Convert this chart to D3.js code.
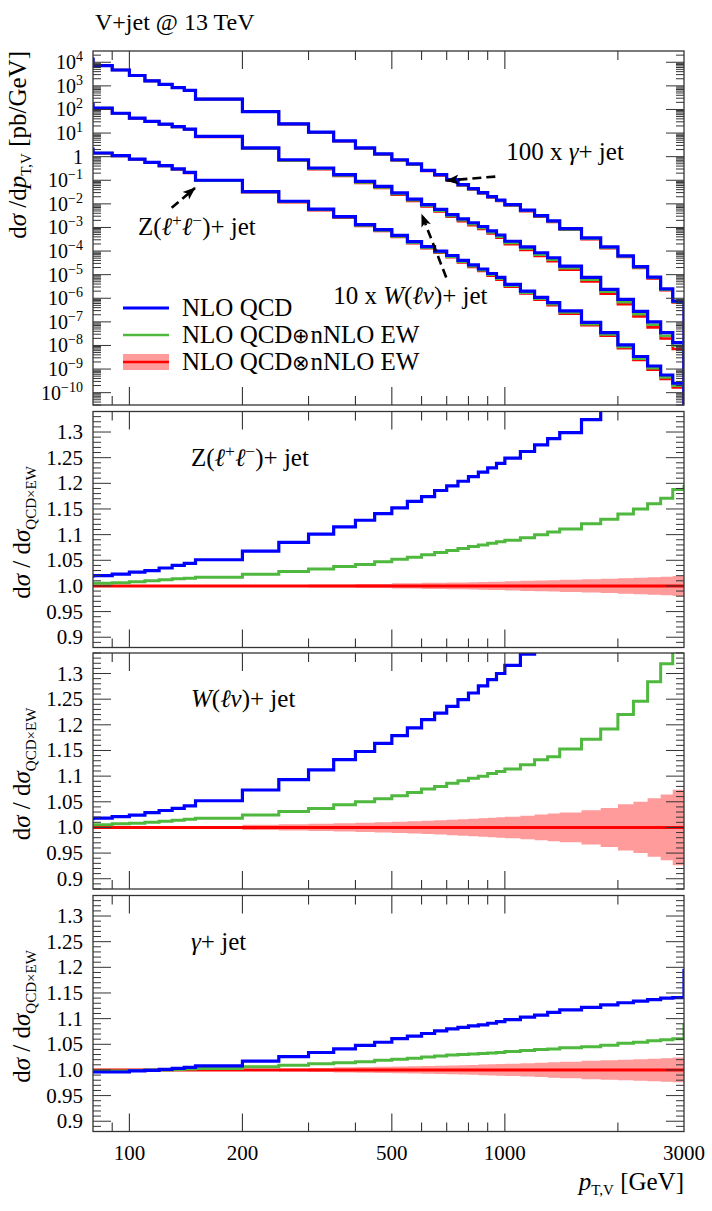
<!DOCTYPE html>
<html>
<head>
<meta charset="utf-8">
<script src="https://cdn.jsdelivr.net/npm/d3@7"></script>
<style>
  body { margin: 0; background: #fff; }
  svg text { font-family: 'Liberation Serif', 'DejaVu Serif', serif; fill: #000; }
</style>
</head>
<body>
<div id="chart"></div>
<script>
// pT bin edges [GeV]; first bin (70-80) and last bin (3000-3300) lie outside the frame
var binEdges = [70, 80, 90, 100, 110, 120, 130, 140, 150, 200, 250, 300, 350, 400, 450, 500, 550, 600,
  650, 700, 750, 800, 850, 900, 950, 1000, 1100, 1200, 1300, 1400, 1600, 1800, 2000, 2200, 2400,
  2600, 2800, 3000, 3300]

// NLO QCD dsigma/dpT [pb/GeV], one value per bin (before the 10x / 100x scaling)
var zQcd = [2.1, 1.43, 1.1, 0.79, 0.575, 0.417, 0.302, 0.214, 0.1, 0.0331, 0.0129, 6.0e-3, 2.9e-3,
  1.32e-3, 8.1e-4, 4.6e-4, 2.5e-4, 1.55e-4, 1.0e-4, 6.5e-5, 4.0e-5, 2.6e-5, 1.74e-5, 1.12e-5, 7.6e-6,
  3.9e-6, 2.0e-6, 1.1e-6, 6.5e-7, 2.9e-7, 9.5e-8, 3.5e-8, 1.05e-8, 3.4e-9, 1.35e-9, 5.6e-10, 2.5e-10, 1e-14]
var wQcd = [16, 11.5, 6.9, 4.3, 3.1, 2.4, 1.86, 1.48, 0.72, 0.235, 0.074, 0.033, 0.0174, 8.9e-3,
  5.5e-3, 2.9e-3, 1.58e-3, 9.3e-4, 5.8e-4, 3.5e-4, 2.3e-4, 1.58e-4, 1.1e-4, 7.2e-5, 4.8e-5,
  2.6e-5, 1.5e-5, 8.5e-6, 5.2e-6, 2.3e-6, 7.6e-7, 2.4e-7, 8.9e-8, 2.8e-8, 1.0e-8, 3.5e-9, 1.32e-9, 1e-14]
var gQcd = [135, 72, 47, 27.5, 16.2, 11.5, 8.5, 6.5, 2.75, 0.81, 0.245, 0.11, 0.047, 0.0235, 0.0132,
  7.4e-3, 4.9e-3, 2.63e-3, 1.74e-3, 1.07e-3, 6.5e-4, 4.4e-4, 3.0e-4, 2.04e-4, 1.45e-4,
  9.3e-5, 5.4e-5, 3.2e-5, 1.9e-5, 8.9e-6, 3.6e-6, 1.5e-6, 6.3e-7, 2.2e-7, 7.9e-8, 2.5e-8, 7.5e-9, 1e-14]

// Ratios to NLO QCD x nNLO EW
var zRatioQcd = [1.019, 1.020, 1.023, 1.027, 1.030, 1.035, 1.040, 1.044, 1.051, 1.068, 1.085, 1.101,
  1.115, 1.128, 1.141, 1.152, 1.165, 1.174, 1.186, 1.195, 1.204, 1.213, 1.222, 1.230, 1.239,
  1.249, 1.262, 1.275, 1.287, 1.299, 1.324, 1.35, 1.38, 1.41, 1.44, 1.47, 1.50, 1.50]
var zRatioAdd = [1.005, 1.005, 1.006, 1.008, 1.010, 1.012, 1.014, 1.015, 1.017, 1.023, 1.028, 1.033,
  1.038, 1.042, 1.047, 1.052, 1.056, 1.061, 1.065, 1.069, 1.073, 1.077, 1.080, 1.083, 1.086,
  1.089, 1.094, 1.100, 1.105, 1.111, 1.121, 1.130, 1.140, 1.150, 1.160, 1.171, 1.188, 1.194]
var zBand = [0.001, 0.001, 0.001, 0.001, 0.001, 0.001, 0.001, 0.001, 0.001, 0.002, 0.002, 0.003,
  0.003, 0.004, 0.004, 0.005, 0.005, 0.006, 0.006, 0.0065, 0.0065, 0.007, 0.0075, 0.008, 0.008,
  0.009, 0.010, 0.0105, 0.011, 0.012, 0.013, 0.014, 0.015, 0.016, 0.017, 0.018, 0.0195, 0]

var wRatioQcd = [1.017, 1.018, 1.021, 1.024, 1.029, 1.033, 1.037, 1.042, 1.052, 1.073, 1.093, 1.112,
  1.132, 1.148, 1.164, 1.179, 1.194, 1.210, 1.223, 1.236, 1.249, 1.262, 1.276, 1.288, 1.300,
  1.316, 1.338, 1.36, 1.385, 1.42, 1.47, 1.52, 1.58, 1.64, 1.71, 1.78, 1.86, 1.86]
var wRatioAdd = [1.005, 1.005, 1.007, 1.008, 1.010, 1.012, 1.014, 1.016, 1.018, 1.024, 1.031, 1.037,
  1.044, 1.050, 1.056, 1.062, 1.068, 1.075, 1.080, 1.086, 1.091, 1.096, 1.100, 1.105, 1.109,
  1.114, 1.122, 1.132, 1.138, 1.153, 1.172, 1.192, 1.220, 1.246, 1.284, 1.319, 1.36, 1.36]
var wBand = [0.001, 0.001, 0.001, 0.001, 0.001, 0.001, 0.001, 0.001, 0.002, 0.005, 0.006, 0.007,
  0.008, 0.009, 0.010, 0.011, 0.012, 0.013, 0.014, 0.015, 0.016, 0.017, 0.018, 0.019, 0.020,
  0.021, 0.023, 0.025, 0.027, 0.029, 0.0335, 0.038, 0.045, 0.050, 0.057, 0.064, 0.0736, 0]

var gRatioQcd = [0.996, 0.996, 0.996, 0.998, 0.999, 1.001, 1.003, 1.005, 1.008, 1.017, 1.026, 1.034,
  1.041, 1.048, 1.054, 1.061, 1.066, 1.071, 1.076, 1.080, 1.083, 1.086, 1.088, 1.091, 1.094,
  1.098, 1.103, 1.107, 1.112, 1.117, 1.122, 1.127, 1.131, 1.134, 1.137, 1.140, 1.141, 1.194]
var gRatioAdd = [0.998, 0.998, 0.998, 0.999, 1.000, 1.000, 1.001, 1.002, 1.003, 1.006, 1.009, 1.012,
  1.014, 1.016, 1.019, 1.021, 1.023, 1.025, 1.027, 1.029, 1.030, 1.031, 1.032, 1.033, 1.034,
  1.036, 1.038, 1.040, 1.041, 1.043, 1.045, 1.048, 1.052, 1.054, 1.057, 1.059, 1.061, 1.087]
var gBand = [0.001, 0.001, 0.001, 0.001, 0.001, 0.001, 0.001, 0.001, 0.001, 0.002, 0.003, 0.004,
  0.005, 0.0055, 0.006, 0.0065, 0.007, 0.0075, 0.008, 0.0085, 0.009, 0.0095, 0.0105, 0.011, 0.0115,
  0.012, 0.013, 0.014, 0.015, 0.016, 0.018, 0.019, 0.020, 0.021, 0.022, 0.023, 0.024, 0]

// Axis ticks and labels
var xMajorTicks = [100, 200, 500, 1000]
var xMinorTicks = [90, 300, 400, 600, 700, 800, 900, 2000]
var xTickLabels = [100, 200, 500, 1000, 3000]
var ratioTickValues = [0.9, 0.95, 1.0, 1.05, 1.1, 1.15, 1.2, 1.25, 1.3]
var ratioTickLabels = ['0.9', '0.95', '1.0', '1.05', '1.1', '1.15', '1.2', '1.25', '1.3']
var mainExponents = [-10, -9, -8, -7, -6, -5, -4, -3, -2, -1, 0, 1, 2, 3, 4]

// Colours
var colQcd = '#0000ff'
var colAdd = '#4fb83e'
var colMult = '#ff0000'
var colBand = '#ff9b9b'

// Layout
var plotLeft = 93
var plotRight = 684
var mainTop = 51
var mainBottom = 405
var ratioTops = [411.5, 653, 895.5]
var ratioHeight = 236

var svg = d3.select('#chart').append('svg')
  .attr('width', 712)
  .attr('height', 1211)

var xScale = d3.scaleLog().domain([80, 3000]).range([plotLeft, plotRight])
var yMain = d3.scaleLog().domain([3e-11, 3e4]).range([mainBottom, mainTop])

// Arrow head for the annotation arrows
svg.append('defs').append('marker')
  .attr('id', 'arrowHead')
  .attr('markerUnits', 'userSpaceOnUse')
  .attr('markerWidth', 14)
  .attr('markerHeight', 12)
  .attr('refX', 12)
  .attr('refY', 6)
  .attr('orient', 'auto')
  .append('path')
  .attr('d', 'M0,1 L13,6 L0,11 L3,6 Z')
  .attr('fill', '#000')

/**
 * Turns per-bin values into step points (one per bin edge)
 */
function toSteps (values) {
  return binEdges.map(function (e, i) {
    return { x: e, y: values[Math.min(i, values.length - 1)] }
  })
}

function toBand (centre, half) {
  return binEdges.map(function (e, i) {
    var k = Math.min(i, centre.length - 1)
    return { x: e, lo: centre[k] * (1 - half[k]), hi: centre[k] * (1 + half[k]) }
  })
}

function addClip (id, top, bottom) {
  svg.select('defs').append('clipPath')
    .attr('id', id)
    .append('rect')
    .attr('x', plotLeft)
    .attr('y', top)
    .attr('width', plotRight - plotLeft)
    .attr('height', bottom - top)
}

function drawStep (g, yScale, values, colour, width) {
  var line = d3.line()
    .x(function (d) { return xScale(d.x) })
    .y(function (d) { return yScale(d.y) })
    .curve(d3.curveStepAfter)
  g.append('path')
    .attr('d', line(toSteps(values)))
    .attr('fill', 'none')
    .attr('stroke', colour)
    .attr('stroke-width', width)
}

function drawBand (g, yScale, centre, half) {
  var area = d3.area()
    .x(function (d) { return xScale(d.x) })
    .y0(function (d) { return yScale(d.lo) })
    .y1(function (d) { return yScale(d.hi) })
    .curve(d3.curveStepAfter)
  g.append('path')
    .attr('d', area(toBand(centre, half)))
    .attr('fill', colBand)
    .attr('stroke', 'none')
}

/**
 * Frame plus inward x ticks on top and bottom edges
 */
function drawFrameAndXTicks (top, bottom) {
  var g = svg.append('g')
  xMajorTicks.forEach(function (v) {
    g.append('line').attr('x1', xScale(v)).attr('x2', xScale(v)).attr('y1', top).attr('y2', top + 18)
    g.append('line').attr('x1', xScale(v)).attr('x2', xScale(v)).attr('y1', bottom).attr('y2', bottom - 18)
  })
  xMinorTicks.forEach(function (v) {
    g.append('line').attr('x1', xScale(v)).attr('x2', xScale(v)).attr('y1', top).attr('y2', top + 9)
    g.append('line').attr('x1', xScale(v)).attr('x2', xScale(v)).attr('y1', bottom).attr('y2', bottom - 9)
  })
  g.selectAll('line').attr('stroke', '#333').attr('stroke-width', 1.1)
  g.append('rect')
    .attr('x', plotLeft)
    .attr('y', top)
    .attr('width', plotRight - plotLeft)
    .attr('height', bottom - top)
    .attr('fill', 'none')
    .attr('stroke', '#333')
    .attr('stroke-width', 1.3)
}

function drawYTick (g, y, len) {
  g.append('line').attr('x1', plotLeft).attr('x2', plotLeft + len).attr('y1', y).attr('y2', y)
  g.append('line').attr('x1', plotRight).attr('x2', plotRight - len).attr('y1', y).attr('y2', y)
}

// ---------------- Main panel ----------------
addClip('clipMain', mainTop, mainBottom)
var mainG = svg.append('g').attr('clip-path', 'url(#clipMain)')

var processes = [
  { qcd: zQcd, scale: 1, rQcd: zRatioQcd, rAdd: zRatioAdd, band: zBand },
  { qcd: wQcd, scale: 10, rQcd: wRatioQcd, rAdd: wRatioAdd, band: wBand },
  { qcd: gQcd, scale: 100, rQcd: gRatioQcd, rAdd: gRatioAdd, band: gBand }
]

processes.forEach(function (p) {
  var qcd = p.qcd.map(function (v) { return v * p.scale })
  var mult = qcd.map(function (v, i) { return v / p.rQcd[i] })
  var add = mult.map(function (v, i) { return v * p.rAdd[i] })
  drawBand(mainG, yMain, mult, p.band)
  drawStep(mainG, yMain, mult, colMult, 2.6)
  drawStep(mainG, yMain, add, colAdd, 2.6)
  drawStep(mainG, yMain, qcd, colQcd, 3.2)
})

// Log y ticks
var mainTicks = svg.append('g')
mainExponents.forEach(function (k) {
  drawYTick(mainTicks, yMain(Math.pow(10, k)), 18)
  for (var m = 2; m <= 9; m++) {
    var v = m * Math.pow(10, k)
    if (v < 3e4) drawYTick(mainTicks, yMain(v), 8)
  }
})
for (var m0 = 3; m0 <= 9; m0++) drawYTick(mainTicks, yMain(m0 * 1e-11), 8)
mainTicks.selectAll('line').attr('stroke', '#333').attr('stroke-width', 1)
drawFrameAndXTicks(mainTop, mainBottom)

// Log y tick labels
mainExponents.forEach(function (k) {
  var t = svg.append('text')
    .attr('x', 83)
    .attr('y', yMain(Math.pow(10, k)) + 7)
    .attr('text-anchor', 'end')
    .style('font-size', '20px')
  if (k === 0) {
    t.text('1')
  } else {
    t.append('tspan').text('10')
    t.append('tspan')
      .attr('dy', -8)
      .style('font-size', '14px')
      .text(k < 0 ? '\u2212' + (-k) : String(k))
  }
})

// Legend
var legendRows = [
  { y: 308, colour: colQcd, text: ['NLO QCD'] },
  { y: 335, colour: colAdd, text: ['NLO QCD', '\u2295', 'nNLO EW'] },
  { y: 362, colour: colMult, text: ['NLO QCD', '\u2297', 'nNLO EW'], band: true }
]
legendRows.forEach(function (r) {
  if (r.band) {
    svg.append('rect').attr('x', 123).attr('y', r.y - 8).attr('width', 46).attr('height', 16).attr('fill', colBand)
  }
  svg.append('line')
    .attr('x1', 123).attr('x2', 169)
    .attr('y1', r.y).attr('y2', r.y)
    .attr('stroke', r.colour)
    .attr('stroke-width', r.colour === colQcd ? 3.2 : 2.6)
  var t = svg.append('text').attr('x', 182).attr('y', r.y + 8).style('font-size', '25px')
  r.text.forEach(function (s) {
    var sp = t.append('tspan').text(s)
    if (s.length === 1) sp.style('font-family', 'DejaVu Sans').style('font-weight', 200).style('font-size', '21px')
  })
})

// Annotations in the main panel
function annotation (x0, y0, x1, y1) {
  svg.append('line')
    .attr('x1', xScale(x0)).attr('y1', yMain(y0))
    .attr('x2', xScale(x1)).attr('y2', yMain(y1))
    .attr('stroke', '#000')
    .attr('stroke-width', 2.6)
    .attr('stroke-dasharray', '9,5')
    .attr('marker-end', 'url(#arrowHead)')
}
annotation(129.6, 6.8e-3, 149.5, 4.7e-2)
annotation(698, 7.6e-6, 601, 3.5e-3)
annotation(943, 0.143, 700, 0.097)

/**
 * Writes a process label; parts may be italic, raised (small) or shifted back to the baseline
 */
function processLabel (x, y, parts, size) {
  var t = svg.append('text').attr('x', x).attr('y', y).style('font-size', size + 'px')
  parts.forEach(function (p) {
    var s = t.append('tspan').text(p.t)
    if (p.i) s.style('font-style', 'italic')
    if (p.dy) s.attr('dy', p.dy)
    if (p.small) s.style('font-size', (size * 0.7) + 'px')
    if (p.f) s.style('font-family', p.f)
  })
}

var zParts = [{ t: 'Z(' }, { t: '\u2113', f: 'DejaVu Serif', i: true }, { t: '+', dy: -9, small: true },
  { t: '\u2113', f: 'DejaVu Serif', i: true, dy: 9 }, { t: '\u2212', dy: -9, small: true }, { t: ')+ jet', dy: 9 }]
var wParts = [{ t: 'W', i: true }, { t: '(' }, { t: '\u2113', f: 'DejaVu Serif', i: true }, { t: '\u03bd', i: true }, { t: ')+ jet' }]
var gParts = [{ t: '\u03b3', i: true }, { t: '+ jet' }]

processLabel(xScale(105.4), yMain(5e-4), zParts, 25)
processLabel(xScale(349), yMain(5.5e-7), [{ t: '10 x ' }].concat(wParts), 25)
processLabel(xScale(1008), yMain(0.74), [{ t: '100 x ' }].concat(gParts), 25)

// ---------------- Ratio panels ----------------
var ratioPanels = [
  { rQcd: zRatioQcd, rAdd: zRatioAdd, band: zBand, label: zParts },
  { rQcd: wRatioQcd, rAdd: wRatioAdd, band: wBand, label: wParts },
  { rQcd: gRatioQcd, rAdd: gRatioAdd, band: gBand, label: gParts }
]

ratioPanels.forEach(function (p, idx) {
  var top = ratioTops[idx]
  var bottom = top + ratioHeight
  var yR = d3.scaleLinear().domain([0.88, 1.34]).range([bottom, top])
  addClip('clipR' + idx, top, bottom)
  var g = svg.append('g').attr('clip-path', 'url(#clipR' + idx + ')')
  var ones = p.band.map(function () { return 1 })
  drawBand(g, yR, ones, p.band)
  drawStep(g, yR, ones, colMult, 3)
  drawStep(g, yR, p.rAdd, colAdd, 3)
  drawStep(g, yR, p.rQcd, colQcd, 3.2)

  // y ticks
  var tg = svg.append('g')
  d3.range(88, 135).forEach(function (c) {
    drawYTick(tg, yR(c / 100), c % 5 === 0 ? 18 : 8)
  })
  tg.selectAll('line').attr('stroke', '#333').attr('stroke-width', 1)
  drawFrameAndXTicks(top, bottom)

  ratioTickValues.forEach(function (v, i) {
    svg.append('text')
      .attr('x', 83)
      .attr('y', yR(v) + 7)
      .attr('text-anchor', 'end')
      .style('font-size', '21px')
      .text(ratioTickLabels[i])
  })

  // y axis title
  var t = svg.append('text')
    .attr('transform', 'translate(30,' + (top + 121) + ') rotate(-90)')
    .attr('text-anchor', 'middle')
    .style('font-size', '25px')
  t.append('tspan').text('d')
  t.append('tspan').text('\u03c3').style('font-style', 'italic')
  t.append('tspan').text(' / d')
  t.append('tspan').text('\u03c3').style('font-style', 'italic')
  t.append('tspan').text('QCD\u00d7EW').attr('dy', 6).style('font-size', '15px')

  processLabel(191, top + 54, p.label, 25)
})

// Main y axis title
var yt = svg.append('text')
  .attr('transform', 'translate(26,' + mainTop + ') rotate(-90)')
  .attr('text-anchor', 'end')
  .style('font-size', '25px')
yt.append('tspan').text('d')
yt.append('tspan').text('\u03c3').style('font-style', 'italic')
yt.append('tspan').text(' /d')
yt.append('tspan').text('p').style('font-style', 'italic')
yt.append('tspan').text('T,V').attr('dy', 5).style('font-size', '15px')
yt.append('tspan').text(' [pb/GeV]').attr('dy', -5)

// x tick labels and title
xTickLabels.forEach(function (v) {
  svg.append('text')
    .attr('x', xScale(v))
    .attr('y', 1160)
    .attr('text-anchor', 'middle')
    .style('font-size', '21px')
    .text(v)
})

var xt = svg.append('text')
  .attr('x', plotRight)
  .attr('y', 1190)
  .attr('text-anchor', 'end')
  .style('font-size', '25px')
xt.append('tspan').text('p').style('font-style', 'italic')
xt.append('tspan').text('T,V').attr('dy', 5).style('font-size', '15px')
xt.append('tspan').text(' [GeV]').attr('dy', -5)

// Title
svg.append('text')
  .attr('x', 95)
  .attr('y', 30)
  .style('font-size', '24px')
  .text('V+jet @ 13 TeV')
</script>
</body>
</html>
